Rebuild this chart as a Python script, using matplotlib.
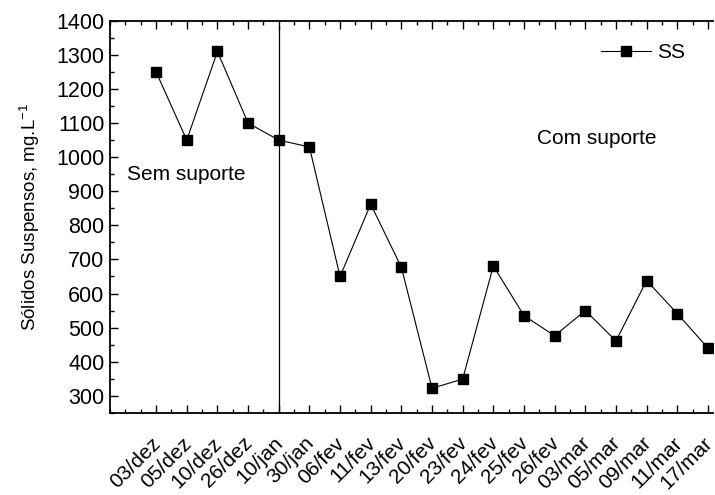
import matplotlib
matplotlib.use("Agg")
import matplotlib.pyplot as plt
import matplotlib.transforms as mtransforms
from matplotlib.ticker import MultipleLocator

plt.rcParams['font.family'] = ['Liberation Sans', 'DejaVu Sans']

datas = ["03/dez", "05/dez", "10/dez", "26/dez", "10/jan", "30/jan", "06/fev",
         "11/fev", "13/fev", "20/fev", "23/fev", "24/fev", "25/fev", "26/fev",
         "03/mar", "05/mar", "09/mar", "11/mar", "17/mar"]
ss = [1250, 1050, 1310, 1100, 1050, 1030, 650, 862, 677, 322, 349, 681,
      535, 476, 550, 461, 638, 541, 440]
inicio_suporte = 4  # indice de 10/jan

x = list(range(len(datas)))

fig = plt.figure(figsize=(7.15, 4.95), dpi=100)
ax = fig.add_axes([0.154, 0.166, 0.843, 0.792])

ax.plot(x, ss, color='black', lw=0.8, marker='s', markersize=7.5,
        markerfacecolor='black', markeredgecolor='black', label='SS')
ax.axvline(inicio_suporte, ymax=0.985, color='black', lw=0.9)

ax.set_xlim(-1.5, 18.16)
ax.set_ylim(250, 1400)
ax.set_xticks(x)
ax.set_xticklabels(datas, rotation=45, ha='right', va='top', rotation_mode='anchor')
ax.xaxis.set_minor_locator(MultipleLocator(0.5))
ax.yaxis.set_minor_locator(MultipleLocator(50))
ax.set_yticks(range(300, 1401, 100))

ax.tick_params(axis='both', which='major', direction='in', length=6, width=1,
               labelsize=15.5)
ax.tick_params(axis='both', which='minor', direction='in', length=3, width=1)
ax.tick_params(axis='x', which='major', pad=15, labelsize=15)
ax.tick_params(axis='y', which='major', pad=4)
ax.tick_params(axis='x', which='both', top=True, labeltop=False)

# puxa os rotulos das datas um pouco para a esquerda
desloc = mtransforms.ScaledTranslation(-5 / 100, 0, fig.dpi_scale_trans)
for lbl in ax.get_xticklabels():
    lbl.set_transform(lbl.get_transform() + desloc)

for s in ['left', 'top', 'bottom']:
    ax.spines[s].set_linewidth(1.3)
ax.spines['right'].set_visible(False)

ax.set_ylabel('Sólidos Suspensos, mg.L$^{\\mathregular{-1}}$', fontsize=13.5, labelpad=10)

ax.text(0.028, 0.607, 'Sem suporte', transform=ax.transAxes, fontsize=15,
        va='center', ha='left')
ax.text(0.708, 0.70, 'Com suporte', transform=ax.transAxes, fontsize=15,
        va='center', ha='left')

ax.legend(loc='upper right', bbox_to_anchor=(0.985, 0.99), frameon=False,
          fontsize=15, handlelength=2.4, handletextpad=0.3)

fig.savefig('out.png', dpi=100)
